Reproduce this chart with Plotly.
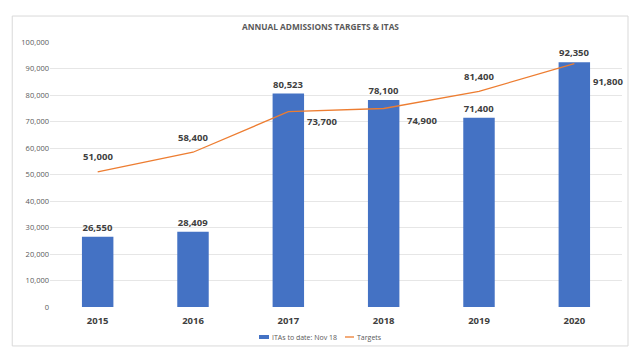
import plotly.graph_objects as go

years = ["2015", "2016", "2017", "2018", "2019", "2020"]
itas = [26550, 28409, 80523, 78100, 71400, 92350]
targets = [51000, 58400, 73700, 74900, 81400, 91800]
y_ticks = list(range(0, 100001, 10000))
series_names = ["ITAs to date: Nov 18", "Targets"]
bar_color = "#4472C4"
line_color = "#ED7D31"

# label placement for the Targets values (style, not data)
target_label_side = ["top", "top", "right", "right", "top", "right"]
target_label_dy = [15, 15, -10, -12, 15, -18]
target_label_dx = [0, 0, 17, 21, 0, 17]

label_font = dict(family="Open Sans", size=9.5, color="#404040", weight="bold")

fig = go.Figure()
fig.add_trace(go.Bar(
    x=years, y=itas, name=series_names[0],
    marker=dict(color=bar_color, line=dict(width=0)), width=0.33,
    text=[f"{v:,}" for v in itas], textposition="outside",
    textfont=label_font, cliponaxis=False, showlegend=False,
))
fig.add_trace(go.Scatter(
    x=years, y=targets, name=series_names[1], mode="lines",
    line=dict(color=line_color, width=1.3),
    cliponaxis=False, showlegend=False,
))

annotations = []
for i, (v, side, dx, dy) in enumerate(zip(targets, target_label_side, target_label_dx, target_label_dy)):
    annotations.append(dict(
        x=i, y=v, xref="x", yref="y", text=f"{v:,}", showarrow=False,
        xanchor="center" if side == "top" else "left", yanchor="middle",
        xshift=dx, yshift=dy, font=label_font,
    ))

# compact legend (pixel helpers for paper coordinates)
PL, PW, PB, PH = 50, 572, 307, 265
def px(x):
    return (x - PL) / PW
def py(y):
    return (PB - y) / PH

leg_y = 337
legend_font = dict(family="Open Sans", size=7, color="#595959")
annotations.append(dict(x=px(270), y=py(leg_y), xref="paper", yref="paper",
                        text=series_names[0], showarrow=False, xanchor="left",
                        yanchor="middle", font=legend_font))
annotations.append(dict(x=px(355), y=py(leg_y), xref="paper", yref="paper",
                        text=series_names[1], showarrow=False, xanchor="left",
                        yanchor="middle", font=legend_font))

shapes = [
    dict(type="rect", xref="paper", yref="paper",
         x0=-0.066, x1=1.0105, y0=-0.147, y1=1.098,
         line=dict(color="#D9D9D9", width=1), layer="below"),
    dict(type="rect", xref="paper", yref="paper",
         x0=px(259), x1=px(269), y0=py(339), y1=py(335),
         fillcolor=bar_color, line=dict(width=0)),
    dict(type="line", xref="paper", yref="paper",
         x0=px(345), x1=px(354), y0=py(leg_y), y1=py(leg_y),
         line=dict(color=line_color, width=1.3)),
]

fig.update_layout(
    width=641, height=350,
    margin=dict(l=50, r=19, t=42, b=43),
    paper_bgcolor="white", plot_bgcolor="white",
    title=dict(text="ANNUAL ADMISSIONS TARGETS & ITAS", x=0.5, xanchor="center",
               y=0.922, yanchor="middle",
               font=dict(family="Open Sans", size=8.3, color="#595959", weight="bold")),
    showlegend=False,
    bargap=0.5,
    annotations=annotations,
    shapes=shapes,
)
fig.update_yaxes(range=[0, 100000], tickvals=y_ticks, tickformat=",",
                 showgrid=True, gridcolor="#E6E6E6", gridwidth=1, zeroline=False,
                 tickfont=dict(family="Open Sans", size=7.5, color="#595959"),
                 ticks="", showline=False, automargin=False)
fig.update_xaxes(type="category", range=[-0.5, 5.5],
                 showgrid=False, showline=False, ticks="", automargin=False,
                 ticklabelstandoff=6,
                 tickfont=dict(family="Open Sans", size=9.5, color="#404040", weight="bold"))

fig.write_html("out.html")
